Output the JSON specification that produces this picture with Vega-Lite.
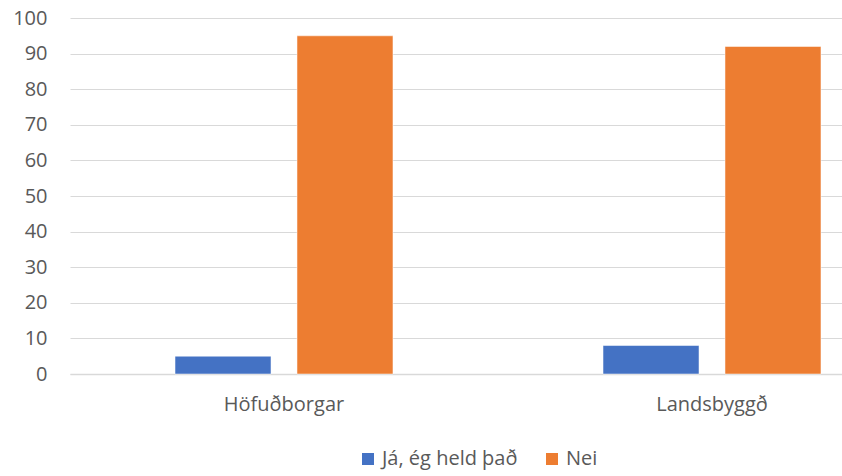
{
  "$schema": "https://vega.github.io/schema/vega-lite/v6.json",
  "autosize": {"type": "none"},
  "padding": {"left": 70, "top": 18, "right": 0, "bottom": 102},
  "width": 856,
  "height": 356,
  "background": "white",
  "data": {"values": [
    {"region": "Höfuðborgar", "answer": "Já, ég held það", "value": 5},
    {"region": "Höfuðborgar", "answer": "Nei", "value": 95},
    {"region": "Landsbyggð", "answer": "Já, ég held það", "value": 8},
    {"region": "Landsbyggð", "answer": "Nei", "value": 92}
  ]},
  "mark": {"type": "bar", "stroke": "white", "strokeWidth": 0.5},
  "encoding": {
    "x": {"field": "region", "type": "nominal", "sort": null,
      "scale": {"paddingInner": 0, "paddingOuter": 0},
      "axis": {"title": null, "labelAngle": 0, "ticks": false, "domainColor": "#d9d9d9", "domainWidth": 1.5,
        "labelFont": "Open Sans", "labelFontSize": 20, "labelColor": "#595959", "labelPadding": 20}},
    "xOffset": {"field": "answer", "type": "nominal", "sort": null,
      "scale": {"paddingInner": 0.213, "paddingOuter": 0.861}},
    "y": {"field": "value", "type": "quantitative",
      "scale": {"domain": [0, 100]},
      "axis": {"title": null, "values": [0,10,20,30,40,50,60,70,80,90,100], "ticks": false, "domain": false,
        "gridColor": "#d9d9d9", "gridWidth": 1.2, "labelPadding": 23,
        "labelFont": "Open Sans", "labelFontSize": 20, "labelColor": "#595959"}},
    "color": {"field": "answer", "type": "nominal", "sort": null,
      "scale": {"domain": ["Já, ég held það", "Nei"], "range": ["#4472C4", "#ED7D31"]},
      "legend": {"title": null, "orient": "none", "direction": "horizontal", "legendX": 288, "legendY": 431,
        "symbolType": "square", "symbolSize": 144, "symbolStrokeWidth": 0, "labelOffset": 4,
        "labelFont": "Open Sans", "labelFontSize": 20, "labelColor": "#595959", "columnPadding": 24}}
  },
  "config": {"view": {"stroke": null}}
}
